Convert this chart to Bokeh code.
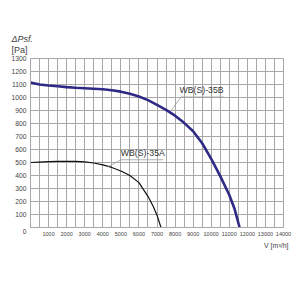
from bokeh.plotting import figure
from bokeh.models import FixedTicker, Label, Range1d, Title
from bokeh.embed import file_html
from bokeh.resources import INLINE

# data
flow_b = [0, 500, 1000, 1500, 2000, 2500, 3000, 3500, 4000, 4500, 5000, 5500, 6000, 6500, 7000,
          7500, 8000, 8500, 9000, 9500, 10000, 10500, 11000, 11300, 11570]
press_b = [1115, 1100, 1092, 1086, 1080, 1075, 1071, 1067, 1063, 1056, 1045, 1028, 1008, 980, 943,
           905, 860, 805, 740, 648, 528, 395, 250, 140, 0]
flow_a = [0, 500, 1000, 1500, 2000, 2500, 3000, 3500, 4000, 4500, 5000, 5500, 6000, 6500, 6800, 7000, 7220]
press_a = [500, 503, 506, 508, 509, 509, 505, 496, 482, 462, 435, 400, 345, 240, 160, 95, 0]
x_ticks = list(range(1000, 14001, 1000))
y_ticks = list(range(0, 1301, 100))
label_b = "WB(S)-35B"
label_a = "WB(S)-35A"

FONT = "Liberation Sans"
GRID = "#a8a8a8"
TXT = "#444444"

p = figure(width=300, height=300, output_backend="svg", toolbar_location=None,
           x_range=Range1d(0, 14000), y_range=Range1d(0, 1300),
           min_border_left=30, min_border_right=17, min_border_top=58, min_border_bottom=73)
p.background_fill_color = "white"
p.border_fill_color = "white"
p.outline_line_color = GRID
p.outline_line_width = 1

p.xaxis.ticker = FixedTicker(ticks=x_ticks)
p.yaxis.ticker = FixedTicker(ticks=y_ticks)
for ax in (p.xaxis[0], p.yaxis[0]):
    ax.axis_line_color = GRID
    ax.major_tick_line_color = None
    ax.minor_tick_line_color = None
    ax.major_tick_out = 0
    ax.major_tick_in = 0
    ax.minor_tick_out = 0
    ax.major_label_text_font = FONT
    ax.major_label_text_color = TXT
p.xaxis.major_label_text_font_size = "5.5px"
p.xaxis.major_label_standoff = 4
p.yaxis.major_label_text_font_size = "6.7px"
p.yaxis.major_label_standoff = 4
p.yaxis.major_label_overrides = {0: "\n0"}

p.xgrid.ticker = FixedTicker(ticks=list(range(500, 14000, 500)))
p.ygrid.ticker = FixedTicker(ticks=list(range(100, 1300, 100)))
p.xgrid.grid_line_color = GRID
p.ygrid.grid_line_color = GRID
p.xgrid.grid_line_width = 1
p.ygrid.grid_line_width = 1

p.line(flow_a, press_a, line_color="#111111", line_width=1.2)
p.line(flow_b, press_b, line_color="#2f2a85", line_width=2.6)

# leader lines
p.line([4300, 5000, 7350], [468, 521, 521], line_color="#9a9a9a", line_width=0.8)
p.line([7778, 8333, 10700], [897, 1004, 1004], line_color="#9a9a9a", line_width=0.8)

p.add_layout(Label(x=8250, y=1020, text=label_b, text_font=FONT, text_font_size="8.7px",
                   text_color="#333333", text_baseline="bottom"))
p.add_layout(Label(x=5000, y=537, text=label_a, text_font=FONT, text_font_size="8.7px",
                   text_color="#333333", text_baseline="bottom"))

# axis titles as Title objects in the side panels
p.title.text = "ΔPsf."
p.title.align = "left"
p.title.offset = -19
p.title.text_font = FONT
p.title.text_font_size = "9px"
p.title.text_font_style = "italic"
p.title.text_color = TXT
p.title.standoff = 0
p.title.vertical_align = "bottom"
p.add_layout(Title(text="[Pa]", align="left", offset=-19, text_font=FONT, text_font_size="9px",
                   text_font_style="normal", text_color=TXT, standoff=3, vertical_align="top"), "above")
p.add_layout(Title(text="V [m³/h]", align="right", offset=-5, text_font=FONT, text_font_size="7px",
                   text_font_style="normal", text_color=TXT, standoff=2, vertical_align="bottom"), "below")

open("out.html", "w").write(file_html(p, INLINE))
